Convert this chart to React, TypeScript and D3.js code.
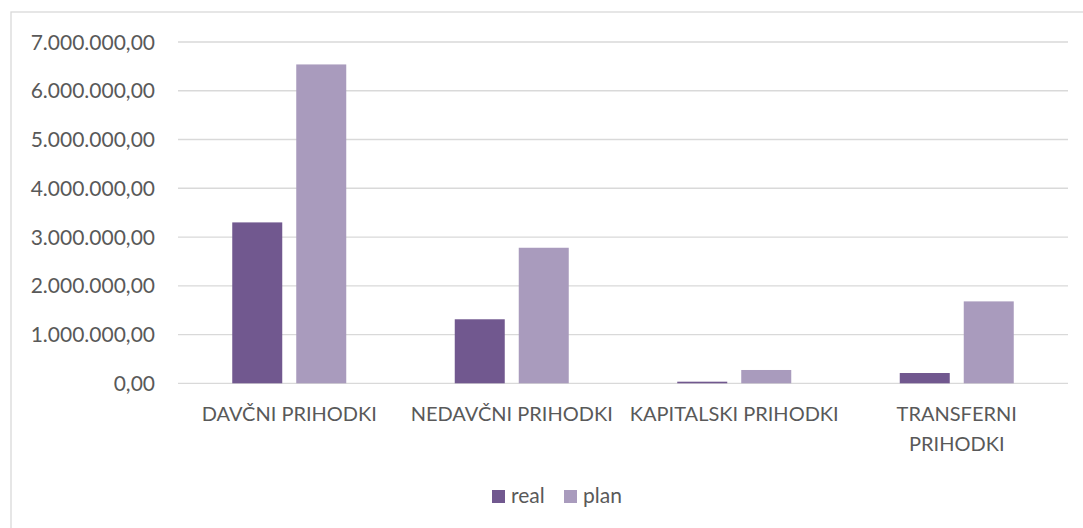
import React from "react";
import * as d3 from "d3";

const categories = ["DAVČNI PRIHODKI", "NEDAVČNI PRIHODKI", "KAPITALSKI PRIHODKI", "TRANSFERNI PRIHODKI"];
const categoryLines = [["DAVČNI PRIHODKI"], ["NEDAVČNI PRIHODKI"], ["KAPITALSKI PRIHODKI"], ["TRANSFERNI", "PRIHODKI"]];
const seriesNames = ["real", "plan"];
const realValues = [3300000, 1313000, 33000, 211000];
const planValues = [6540000, 2780000, 273000, 1680000];
const yTicks = [0, 1000000, 2000000, 3000000, 4000000, 5000000, 6000000, 7000000];
const colors = ["#71588F", "#A99BBD"];

const W = 1083;
const H = 528;
const FONT = "Lato, 'Open Sans', sans-serif";

function fmt(v: number) {
  const s = d3.format(",.2f")(v);
  return s.replace(/,/g, "#").replace(/\./g, ",").replace(/#/g, ".");
}

export default function App() {
  const left = 178, right = 1068, top = 42, bottom = 383.3;
  const x = d3.scaleBand<string>().domain(categories).range([left, right]).paddingInner(0).paddingOuter(0);
  const y = d3.scaleLinear().domain([0, 7000000]).range([bottom, top]);
  const band = x.bandwidth();
  const bw = band * (50 / 222.5);
  const gap = band * (14 / 222.5);
  const series = [realValues, planValues];

  return (
    <svg width={W} height={H} style={{ position: "absolute", left: 0, top: 0, background: "#fff" }}>
      <rect x={11} y={12} width={W} height={H} fill="#fff" stroke="#D9D9D9" strokeWidth={1.3} />
      {yTicks.map((t) => (
        <g key={t}>
          <line x1={left} x2={right} y1={y(t)} y2={y(t)} stroke="#D9D9D9" strokeWidth={1.3} />
          <text x={155} y={y(t)} dy="0.36em" textAnchor="end" fontFamily={FONT} fontSize={21} fill="#595959">
            {fmt(t)}
          </text>
        </g>
      ))}
      {categories.map((c, i) => {
        const cx = (x(c) as number) + band / 2;
        return (
          <g key={c}>
            {series.map((vals, s) => {
              const bx = s === 0 ? cx - gap / 2 - bw : cx + gap / 2;
              return (
                <rect key={s} x={bx} y={y(vals[i])} width={bw} height={y(0) - y(vals[i])} fill={colors[s]} />
              );
            })}
            {categoryLines[i].map((ln, k) => (
              <text key={k} x={cx} y={421 + k * 30} textAnchor="middle" fontFamily={FONT} fontSize={20} fill="#595959">
                {ln}
              </text>
            ))}
          </g>
        );
      })}
      {seriesNames.map((n, s) => {
        const lx = s === 0 ? 492 : 564;
        return (
          <g key={n}>
            <rect x={lx} y={490} width={13} height={13} fill={colors[s]} />
            <text x={lx + 19} y={503} fontFamily={FONT} fontSize={21} fill="#595959">
              {n}
            </text>
          </g>
        );
      })}
    </svg>
  );
}
